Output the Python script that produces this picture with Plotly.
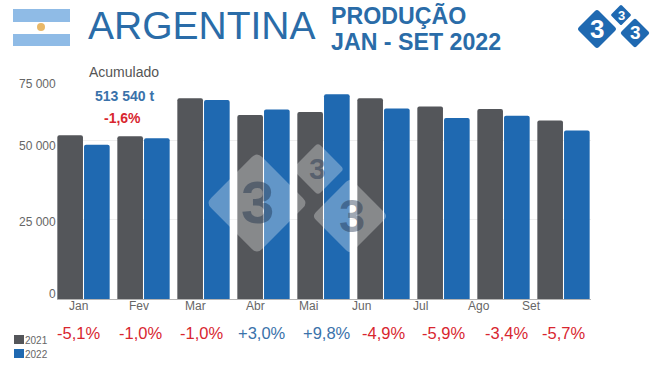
import plotly.graph_objects as go

months = ["Jan", "Fev", "Mar", "Abr", "Mai", "Jun", "Jul", "Ago", "Set"]
values_2021 = [51500, 51190, 63100, 57870, 58810, 63100, 60570, 59760, 56160]
values_2022 = [48510, 50560, 62590, 59630, 64350, 59940, 56920, 57650, 53010]
pct_labels = ["-5,1%", "-1,0%", "-1,0%", "+3,0%", "+9,8%", "-4,9%", "-5,9%", "-3,4%", "-5,7%"]
y_tick_labels = ["75 000", "50 000", "25 000", "0"]
y_tick_values = [75000, 50000, 25000, 0]

W, H = 650, 366
GREY, BLUE = "#54565a", "#1f69b1"
RED, TXTBLUE, TXT = "#d8262f", "#3a72aa", "#666666"
FONT = "Liberation Sans, Arial, sans-serif"

def px(x):
    return x / W

def py(y):
    return 1 - y / H

def text(x, y, s, size, color, bold=False, anchor="center"):
    return dict(xref="paper", yref="paper", x=px(x), y=py(y), text=f"<b>{s}</b>" if bold else s,
                showarrow=False, xanchor=anchor, yanchor="middle",
                font=dict(family=FONT, size=size, color=color), borderpad=0, borderwidth=0)

def rect(x0, y0, x1, y1, color):
    return dict(type="rect", xref="paper", yref="paper", x0=px(x0), x1=px(x1), y0=py(y0), y1=py(y1),
                fillcolor=color, line_width=0, layer="above")

def diamond(cx, cy, r, color, c=0.1):
    # rounded diamond in pixel space, converted to paper coordinates
    pts = [(cx, cy - r), (cx + r, cy), (cx, cy + r), (cx - r, cy)]
    d = ""
    for i, p in enumerate(pts):
        prev, nxt = pts[i - 1], pts[(i + 1) % 4]
        a = (p[0] + (prev[0] - p[0]) * c, p[1] + (prev[1] - p[1]) * c)
        b = (p[0] + (nxt[0] - p[0]) * c, p[1] + (nxt[1] - p[1]) * c)
        d += f"{'M' if i == 0 else 'L'}{px(a[0]):.5f},{py(a[1]):.5f} Q{px(p[0]):.5f},{py(p[1]):.5f} {px(b[0]):.5f},{py(b[1]):.5f} "
    return dict(type="path", xref="paper", yref="paper", path=d + "Z", fillcolor=color, line_width=0, layer="above")

fig = go.Figure()
fig.add_bar(x=months, y=values_2021, name="2021", marker=dict(color=GREY, cornerradius=2, line=dict(width=0)))
fig.add_bar(x=months, y=values_2022, name="2022", marker=dict(color=BLUE, cornerradius=2, line=dict(width=0)))

shapes = [
    rect(13, 9, 70, 22, "#8fbbe6"), rect(13, 34, 70, 46, "#8fbbe6"),
    dict(type="circle", xref="paper", yref="paper", x0=px(37), x1=px(45), y0=py(23), y1=py(31),
         fillcolor="#e9b868", line_width=0, layer="above"),
    diamond(597, 29, 20, BLUE), diamond(621, 15, 10.5, BLUE), diamond(635, 33, 15, BLUE),
    diamond(257, 203, 51, "rgba(255,255,255,0.3)"),
    diamond(318, 169, 26, "rgba(255,255,255,0.3)"),
    diamond(350, 216, 38, "rgba(255,255,255,0.3)"),
    rect(14, 335, 24, 344, GREY), rect(14, 349, 24, 358, BLUE),
]

TITLE = "#2a6ca8"
WM = "rgba(20,40,70,0.42)"
ann = [
    text(88, 26, "ARGENTINA", 39, TITLE, anchor="left"),
    text(331, 15, "PRODUÇÃO", 23.2, TITLE, True, "left"),
    text(331, 42, "JAN - SET 2022", 23.2, TITLE, True, "left"),
    text(89, 72, "Acumulado", 14, "#555555", anchor="left"),
    text(124.5, 96, "513 540 t", 14, TXTBLUE, True),
    text(122, 118, "-1,6%", 14, RED, True),
    text(25, 340, "2021", 10, TXT, anchor="left"),
    text(25, 354, "2022", 10, TXT, anchor="left"),
    text(597, 29, "3", 26, "#ffffff", True),
    text(621, 15, "3", 13, "#ffffff", True),
    text(635, 33, "3", 19, "#ffffff", True),
    text(257, 203, "3", 60, WM, True),
    text(317, 169, "3", 30, WM, True),
    text(352, 215, "3", 47, WM, True),
]
tick_y_px = [84, 146, 222, 294]
for lab, y in zip(y_tick_labels, tick_y_px):
    ann.append(text(56, y, lab, 12, TXT, anchor="right"))
month_x_px = [78, 139, 195, 255, 308, 361, 420, 479, 531]
for lab, x in zip(months, month_x_px):
    ann.append(text(x, 306, lab, 12, TXT))
pct_x_px = [78, 140, 202, 262, 327, 383, 444, 506, 563]
for lab, x in zip(pct_labels, pct_x_px):
    ann.append(text(x, 333, lab, 16.5, TXTBLUE if lab.startswith("+") else RED))

fig.update_layout(
    width=W, height=H, autosize=False, showlegend=False, barmode="group",
    bargap=0.11, bargroupgap=0.04,
    paper_bgcolor="white", plot_bgcolor="white",
    margin=dict(l=0, r=0, t=0, b=0),
    shapes=shapes, annotations=ann, font=dict(family=FONT),
    xaxis=dict(domain=[px(56.5), px(590.5)], range=[-0.45, 8.45], showticklabels=False,
               ticks="", showgrid=False, showline=True, linecolor="#b5b5b5", linewidth=1, fixedrange=True),
    yaxis=dict(domain=[py(299), py(60.5)], range=[0, 75000], tickvals=y_tick_values, showticklabels=False,
               ticks="", showgrid=True, gridcolor="#efefef", gridwidth=1, zeroline=False, showline=False, fixedrange=True),
)
fig.write_html("out.html", config={"displayModeBar": False},
               post_script="document.body.style.margin='0';document.body.style.overflow='hidden';")
